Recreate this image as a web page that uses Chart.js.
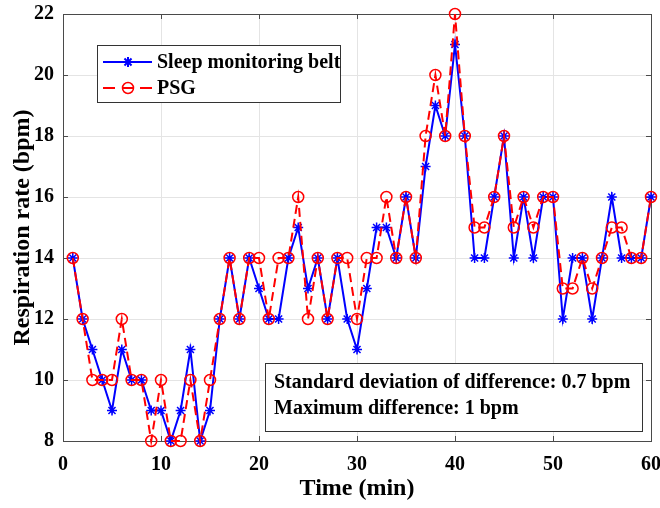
<!DOCTYPE html>
<html>
<head>
<meta charset="utf-8">
<script src="https://cdn.jsdelivr.net/npm/chart.js@4/dist/chart.umd.min.js"></script>
<style>
  html, body { margin: 0; padding: 0; background: #ffffff; }
  #wrap { width: 660px; height: 508px; }
</style>
</head>
<body>
<div id="wrap"><canvas id="c" width="660" height="508"></canvas></div>
<script>
// Time (min)
const minutes = [1,2,3,4,5,6,7,8,9,10,11,12,13,14,15,16,17,18,19,20,21,22,23,24,25,26,27,28,29,30,
                 31,32,33,34,35,36,37,38,39,40,41,42,43,44,45,46,47,48,49,50,51,52,53,54,55,56,57,58,59,60];
// Respiration rate from sleep monitoring belt (bpm)
const beltValues = [14,12,11,10,9,11,10,10,9,9,8,9,11,8,9,12,14,12,14,13,12,12,14,15,13,14,12,14,12,11,
                    13,15,15,14,16,14,17,19,18,21,18,14,14,16,18,14,16,14,16,16,12,14,14,12,14,16,14,14,14,16];
// Respiration rate from PSG (bpm)
const psgValues = [14,12,10,10,10,12,10,10,8,10,8,8,10,8,10,12,14,12,14,14,12,14,14,16,12,14,12,14,14,12,
                   14,14,16,14,16,14,18,20,18,22,18,15,15,16,18,15,16,15,16,16,13,13,14,13,14,15,15,14,14,16];
const xTicks = [0,10,20,30,40,50,60];
const yTicks = [8,10,12,14,16,18,20,22];
const seriesNames = ['Sleep monitoring belt', 'PSG'];
const noteLines = ['Standard deviation of difference: 0.7 bpm', 'Maximum difference: 1 bpm'];

const FONT = "'Liberation Serif', 'Times New Roman', serif";
const BLUE = '#0000ff';
const RED = '#ff0000';
const AXIS = '#4a4a4a';

const beltData = minutes.map((m, i) => ({x: m, y: beltValues[i]}));
const psgData = minutes.map((m, i) => ({x: m, y: psgValues[i]}));

const decor = {
  id: 'decor',
  beforeDatasetsDraw(chart) {
    const {ctx, chartArea: a, scales} = chart;
    ctx.save();
    ctx.strokeStyle = AXIS;
    ctx.lineWidth = 1;
    ctx.strokeRect(Math.round(a.left) + 0.5, Math.round(a.top) + 0.5,
                   Math.round(a.right - a.left), Math.round(a.bottom - a.top));
    // inward ticks on all four sides
    const tl = 5;
    ctx.beginPath();
    xTicks.forEach(v => {
      const px = Math.round(scales.x.getPixelForValue(v)) + 0.5;
      ctx.moveTo(px, a.bottom); ctx.lineTo(px, a.bottom - tl);
      ctx.moveTo(px, a.top); ctx.lineTo(px, a.top + tl);
    });
    yTicks.forEach(v => {
      const py = Math.round(scales.y.getPixelForValue(v)) + 0.5;
      ctx.moveTo(a.left, py); ctx.lineTo(a.left + tl, py);
      ctx.moveTo(a.right, py); ctx.lineTo(a.right - tl, py);
    });
    ctx.stroke();
    ctx.restore();
  },
  afterDatasetsDraw(chart) {
    const {ctx} = chart;
    ctx.save();
    // Legend
    const lx = 97.5, ly = 45.5, lw = 243, lh = 57;
    ctx.fillStyle = '#ffffff';
    ctx.fillRect(lx, ly, lw, lh);
    ctx.strokeStyle = '#333333';
    ctx.lineWidth = 1;
    ctx.strokeRect(lx, ly, lw, lh);
    const rows = [62, 88];
    const ds = chart.data.datasets;
    const styles = [ds[1], ds[0]]; // belt, psg
    // belt row
    ctx.strokeStyle = styles[0].borderColor;
    ctx.lineWidth = 2;
    ctx.setLineDash([]);
    ctx.beginPath(); ctx.moveTo(103, rows[0]); ctx.lineTo(152, rows[0]); ctx.stroke();
    Chart.helpers.drawPoint(ctx, {pointStyle: 'star', radius: 5, borderWidth: 1.5, rotation: 0}, 128, rows[0]);
    // psg row
    ctx.strokeStyle = styles[1].borderColor;
    ctx.lineWidth = 2;
    ctx.beginPath();
    ctx.moveTo(103, rows[1]); ctx.lineTo(115, rows[1]);
    ctx.moveTo(140, rows[1]); ctx.lineTo(152, rows[1]);
    ctx.stroke();
    ctx.beginPath(); ctx.moveTo(123, rows[1]); ctx.lineTo(133, rows[1]); ctx.stroke();
    ctx.lineWidth = 1.5;
    ctx.beginPath(); ctx.arc(128, rows[1], 5.5, 0, Math.PI * 2); ctx.stroke();
    ctx.fillStyle = '#000000';
    ctx.font = `bold 20px ${FONT}`;
    ctx.textAlign = 'left';
    ctx.textBaseline = 'middle';
    ctx.fillText(seriesNames[0], 157, rows[0] + 1);
    ctx.fillText(seriesNames[1], 157, rows[1] + 1);

    // Annotation box
    const bx = 265.5, by = 363.5, bw = 377, bh = 68;
    ctx.fillStyle = '#ffffff';
    ctx.fillRect(bx, by, bw, bh);
    ctx.strokeStyle = '#333333';
    ctx.lineWidth = 1;
    ctx.strokeRect(bx, by, bw, bh);
    ctx.fillStyle = '#000000';
    ctx.textBaseline = 'alphabetic';
    ctx.fillText(noteLines[0], 274, 388);
    ctx.fillText(noteLines[1], 274, 414);
    ctx.restore();
  }
};

new Chart(document.getElementById('c'), {
  type: 'line',
  data: {
    datasets: [
      {
        label: seriesNames[1],
        data: psgData,
        borderColor: RED,
        backgroundColor: 'rgba(0,0,0,0)',
        borderWidth: 2,
        borderDash: [9, 5],
        pointStyle: 'circle',
        pointRadius: 5.5,
        pointBorderWidth: 1.5,
        pointBorderColor: RED,
        pointBackgroundColor: 'rgba(0,0,0,0)',
        tension: 0,
        clip: false
      },
      {
        label: seriesNames[0],
        data: beltData,
        borderColor: BLUE,
        backgroundColor: BLUE,
        borderWidth: 2,
        pointStyle: 'star',
        pointRadius: 5,
        pointBorderWidth: 1.5,
        pointBorderColor: BLUE,
        pointBackgroundColor: BLUE,
        tension: 0,
        clip: false
      }
    ]
  },
  options: {
    responsive: false,
    animation: false,
    devicePixelRatio: 1,
    layout: { padding: { left: 0, top: 14, right: 9, bottom: 0 } },
    plugins: { legend: { display: false }, tooltip: { enabled: false } },
    elements: { point: { hoverRadius: 5 } },
    scales: {
      x: {
        type: 'linear',
        min: 0, max: 60,
        afterFit(s) { s.height = 67; s.paddingLeft = 0; s.paddingRight = 0; },
        afterBuildTicks(s) { s.ticks = xTicks.map(v => ({value: v})); },
        ticks: { font: { family: FONT, size: 20, weight: 'bold' }, color: '#000', padding: 12, maxRotation: 0 },
        grid: { color: '#e4e4e4', drawTicks: false },
        border: { display: false },
        title: { display: true, text: 'Time (min)', color: '#000',
                 font: { family: FONT, size: 24, weight: 'bold' }, padding: { top: 0, bottom: 5 } }
      },
      y: {
        type: 'linear',
        min: 8, max: 22,
        afterFit(s) { s.width = 63; s.paddingTop = 0; s.paddingBottom = 0; },
        afterBuildTicks(s) { s.ticks = yTicks.map(v => ({value: v})); },
        ticks: { font: { family: FONT, size: 20, weight: 'bold' }, color: '#000', padding: 9 },
        grid: { color: '#e4e4e4', drawTicks: false },
        border: { display: false },
        title: { display: true, text: 'Respiration rate (bpm)', color: '#000',
                 font: { family: FONT, size: 24, weight: 'bold' }, padding: { top: 8, bottom: 0 } }
      }
    }
  },
  plugins: [decor]
});
</script>
</body>
</html>
